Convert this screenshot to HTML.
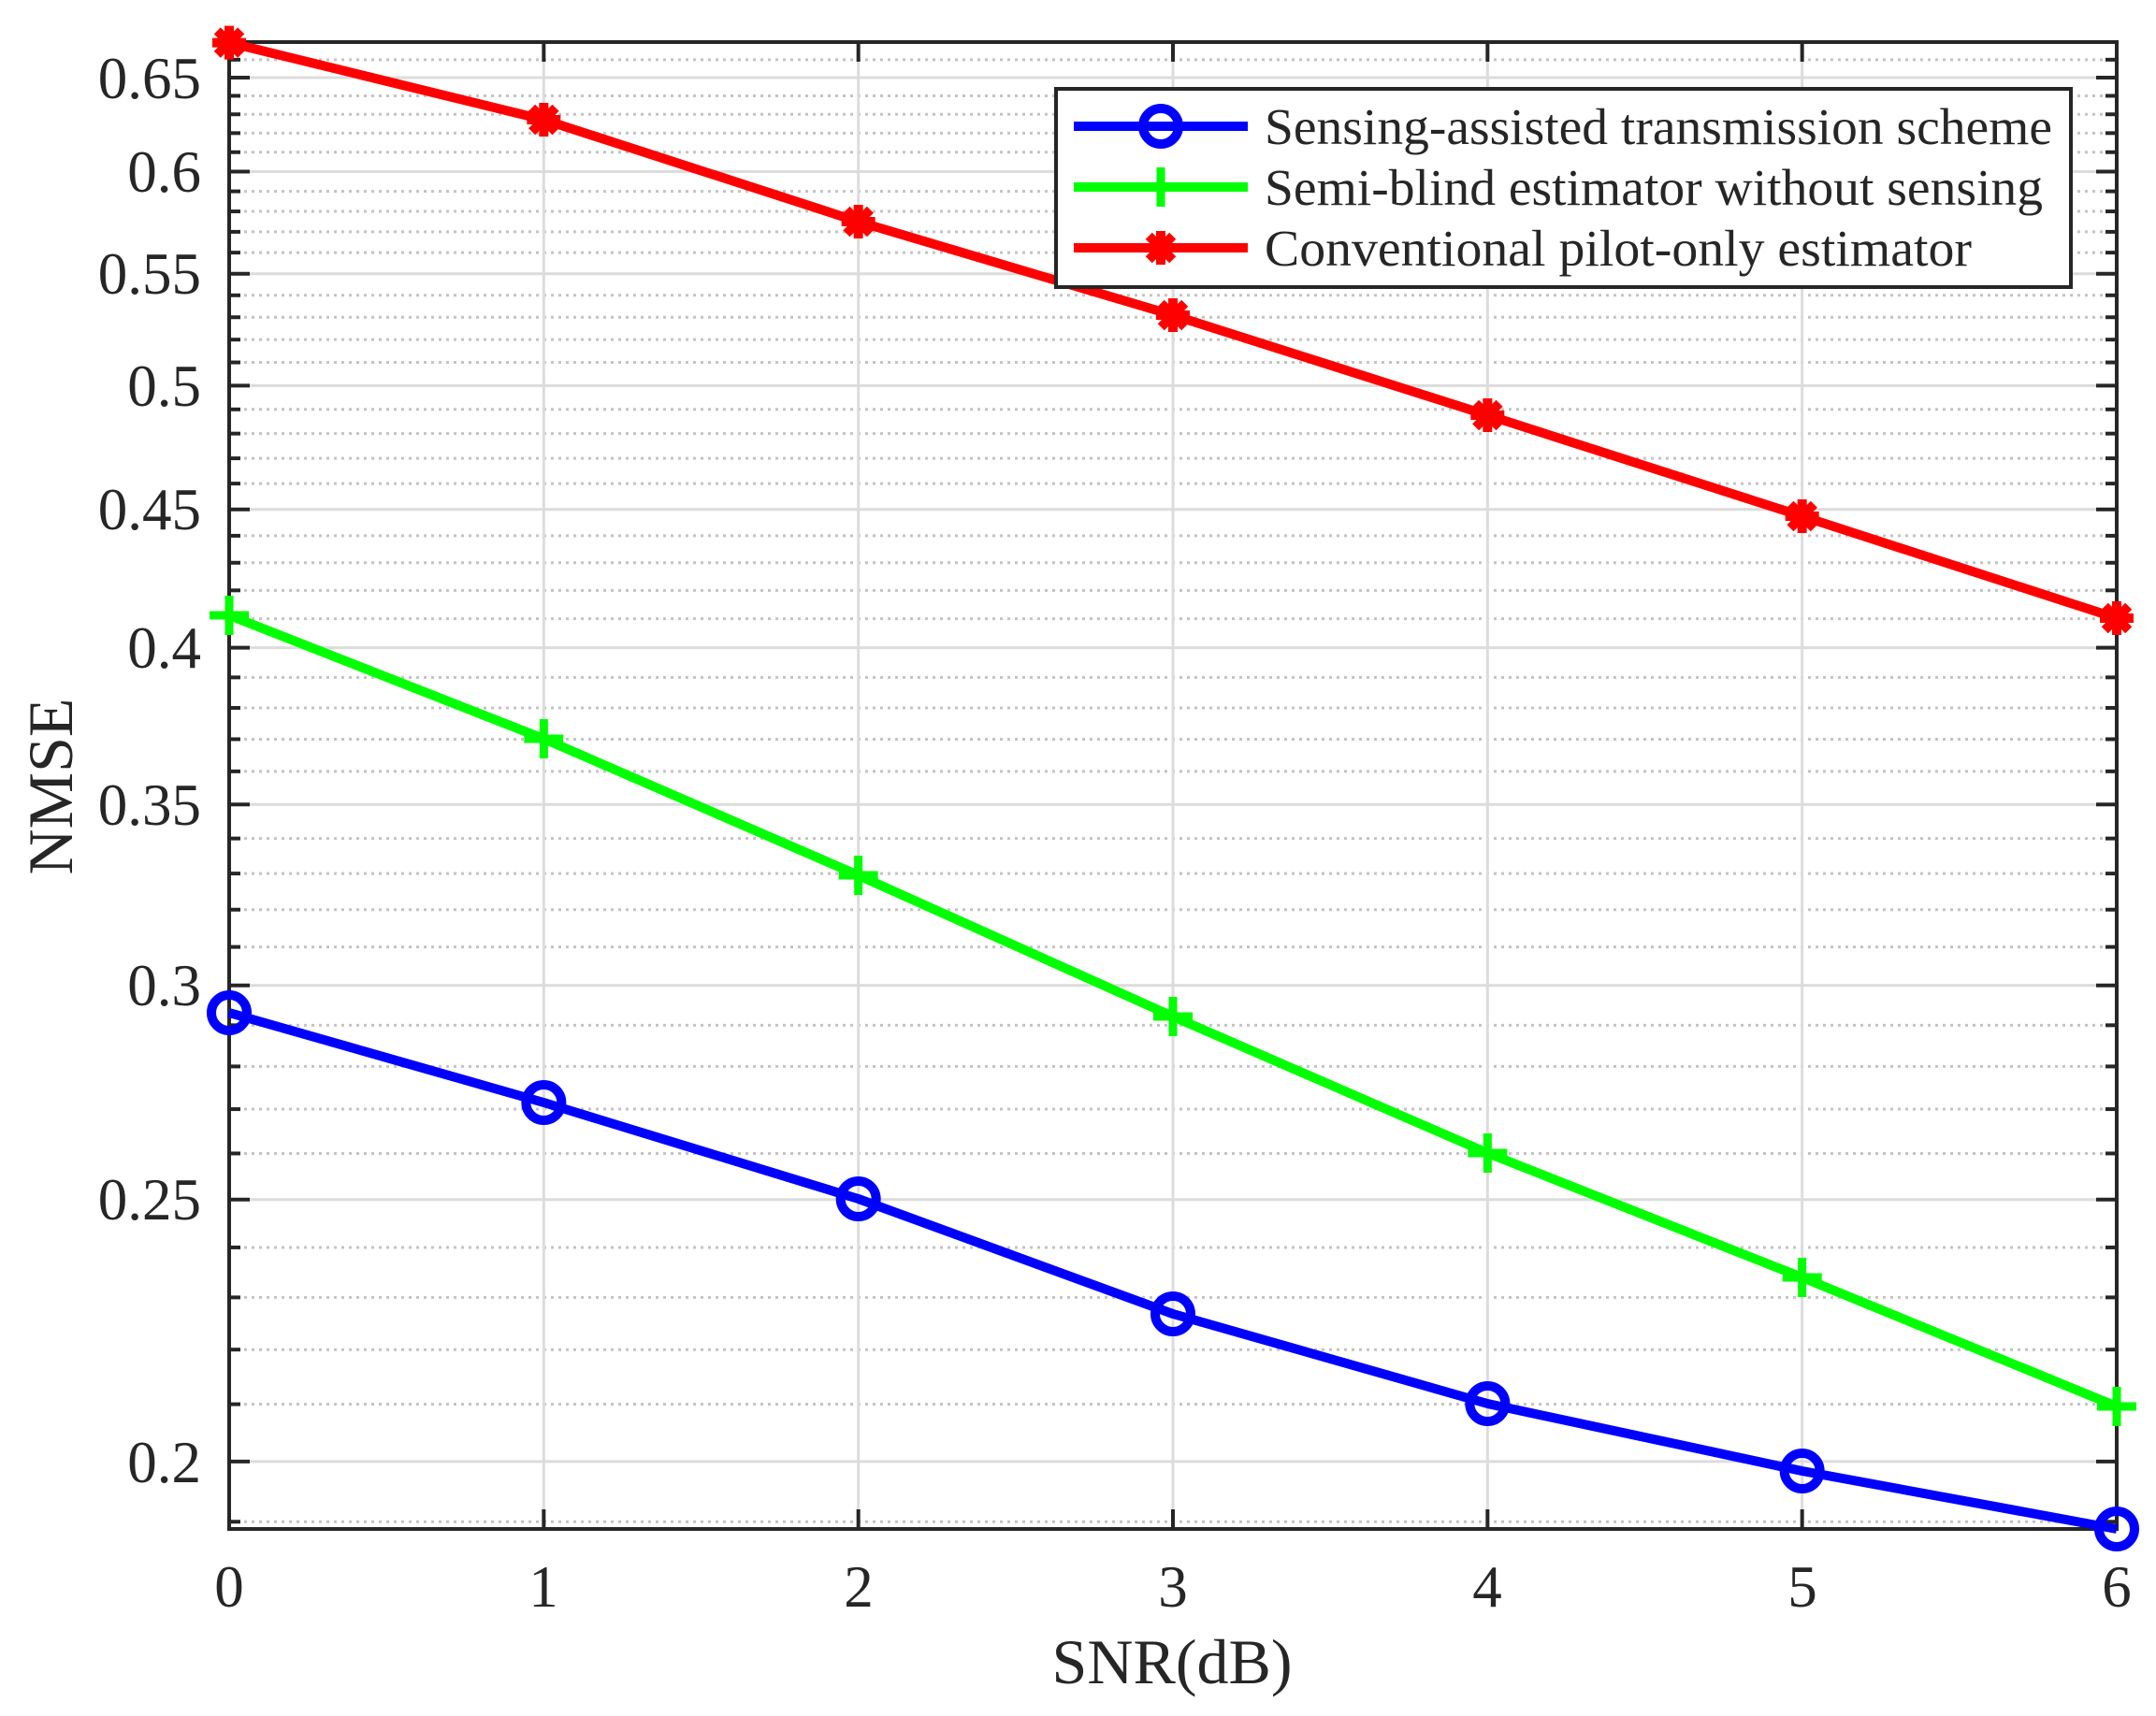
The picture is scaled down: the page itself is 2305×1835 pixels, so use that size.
<!DOCTYPE html>
<html><head><meta charset="utf-8"><style>
html,body{margin:0;padding:0;background:#fff;}
svg{display:block;}
text{font-family:"Liberation Serif",serif;fill:#262626;}
</style></head><body>
<svg id="s" width="2305" height="1835" viewBox="0 0 2305 1835" xmlns="http://www.w3.org/2000/svg">
<rect width="2305" height="1835" fill="#fff"/>
<g id="grid"></g>
<g id="axes"></g>
<g id="series"></g>
<g font-size="63" text-anchor="end">
<text x="215" y="105">0.65</text>
<text x="215" y="205">0.6</text>
<text x="215" y="314">0.55</text>
<text x="215" y="434">0.5</text>
<text x="215" y="566">0.45</text>
<text x="215" y="714">0.4</text>
<text x="215" y="882">0.35</text>
<text x="215" y="1075">0.3</text>
<text x="215" y="1304">0.25</text>
<text x="215" y="1585">0.2</text>
</g>
<g font-size="63" text-anchor="middle">
<text x="245" y="1718">0</text>
<text x="581" y="1718">1</text>
<text x="918" y="1718">2</text>
<text x="1254" y="1718">3</text>
<text x="1590" y="1718">4</text>
<text x="1927" y="1718">5</text>
<text x="2263" y="1718">6</text>
</g>
<text x="1253" y="1800" font-size="68" text-anchor="middle">SNR(dB)</text>
<text transform="translate(77,841) rotate(-90)" font-size="68" text-anchor="middle">NMSE</text>
<g id="legend">
<rect x="1129" y="95" width="1085" height="212" fill="#fff" stroke="#262626" stroke-width="4"/>
<g font-size="55">
<text x="1352" y="154" textLength="842" lengthAdjust="spacingAndGlyphs">Sensing-assisted transmission scheme</text>
<text x="1352" y="219" textLength="832" lengthAdjust="spacingAndGlyphs">Semi-blind estimator without sensing</text>
<text x="1352" y="284" textLength="756" lengthAdjust="spacingAndGlyphs">Conventional pilot-only estimator</text>
</g>
</g>
</svg>
<script>
var NS="http://www.w3.org/2000/svg";
function el(p,t,a){var e=document.createElementNS(NS,t);for(var k in a)e.setAttribute(k,a[k]);p.appendChild(e);return e;}
var L=245,R=2263,T=45,B=1635;
function Y(v){return 83+(Math.log10(0.65)-Math.log10(v))*2891;}
function X(i){return L+(R-L)/6*i;}
var g=document.getElementById('grid'),a=document.getElementById('axes');
for(var k=19;k<=66;k++){var v=k/100,y=Y(v);var major=(k%5==0);
 if(major){el(g,'line',{x1:L,x2:R,y1:y,y2:y,stroke:'#dcdcdc','stroke-width':3});
  el(a,'line',{x1:L,x2:L+22,y1:y,y2:y,stroke:'#262626','stroke-width':4});
  el(a,'line',{x1:R,x2:R-22,y1:y,y2:y,stroke:'#262626','stroke-width':4});}
 else{el(g,'line',{x1:L,x2:R,y1:y,y2:y,stroke:'#c4c4c4','stroke-width':3,'stroke-dasharray':'3 5'});
  el(a,'line',{x1:L,x2:L+12,y1:y,y2:y,stroke:'#262626','stroke-width':4});
  el(a,'line',{x1:R,x2:R-12,y1:y,y2:y,stroke:'#262626','stroke-width':4});}
}
for(var i=0;i<=6;i++){var x=X(i);
 el(g,'line',{x1:x,x2:x,y1:T,y2:B,stroke:'#dcdcdc','stroke-width':3});
 el(a,'line',{x1:x,x2:x,y1:B,y2:B-21,stroke:'#262626','stroke-width':4});
 el(a,'line',{x1:x,x2:x,y1:T,y2:T+21,stroke:'#262626','stroke-width':4});}
el(a,'rect',{x:L,y:T,width:R-L,height:B-T,fill:'none',stroke:'#262626','stroke-width':4});
var s=document.getElementById('series');
var red=[45.6,128,237,337,444,552,661],grn=[658,790,936,1087,1233,1366,1504],blu=[1083,1179,1282,1405,1501,1573,1635];
function line(ys,c){var p=ys.map(function(y,i){return X(i)+','+y}).join(' ');el(s,'polyline',{points:p,fill:'none',stroke:c,'stroke-width':10,'stroke-linejoin':'round'});}
function circ(p,x,y){el(p,'circle',{cx:x,cy:y,r:19,fill:'none',stroke:'#0000ff','stroke-width':10});}
function plus(p,x,y){el(p,'line',{x1:x-21,x2:x+21,y1:y,y2:y,stroke:'#00ff00','stroke-width':9});el(p,'line',{x1:x,x2:x,y1:y-21,y2:y+21,stroke:'#00ff00','stroke-width':9});}
function star(p,x,y){for(var j=0;j<4;j++){var an=j*Math.PI/4,dx=18*Math.cos(an),dy=18*Math.sin(an);el(p,'line',{x1:x-dx,x2:x+dx,y1:y-dy,y2:y+dy,stroke:'#ff0000','stroke-width':10});}el(p,'circle',{cx:x,cy:y,r:12,fill:'#ff0000'});}
line(blu,'#0000ff');line(grn,'#00ff00');line(red,'#ff0000');
for(var i=0;i<7;i++){circ(s,X(i),blu[i]);plus(s,X(i),grn[i]);star(s,X(i),red[i]);}
var lg=document.getElementById('legend');
var rows=[[135,'#0000ff',circ],[200,'#00ff00',plus],[265,'#ff0000',star]];
rows.forEach(function(r){el(lg,'line',{x1:1148,x2:1334,y1:r[0],y2:r[0],stroke:r[1],'stroke-width':10});r[2](lg,1241,r[0]);});
</script>
</body></html>
